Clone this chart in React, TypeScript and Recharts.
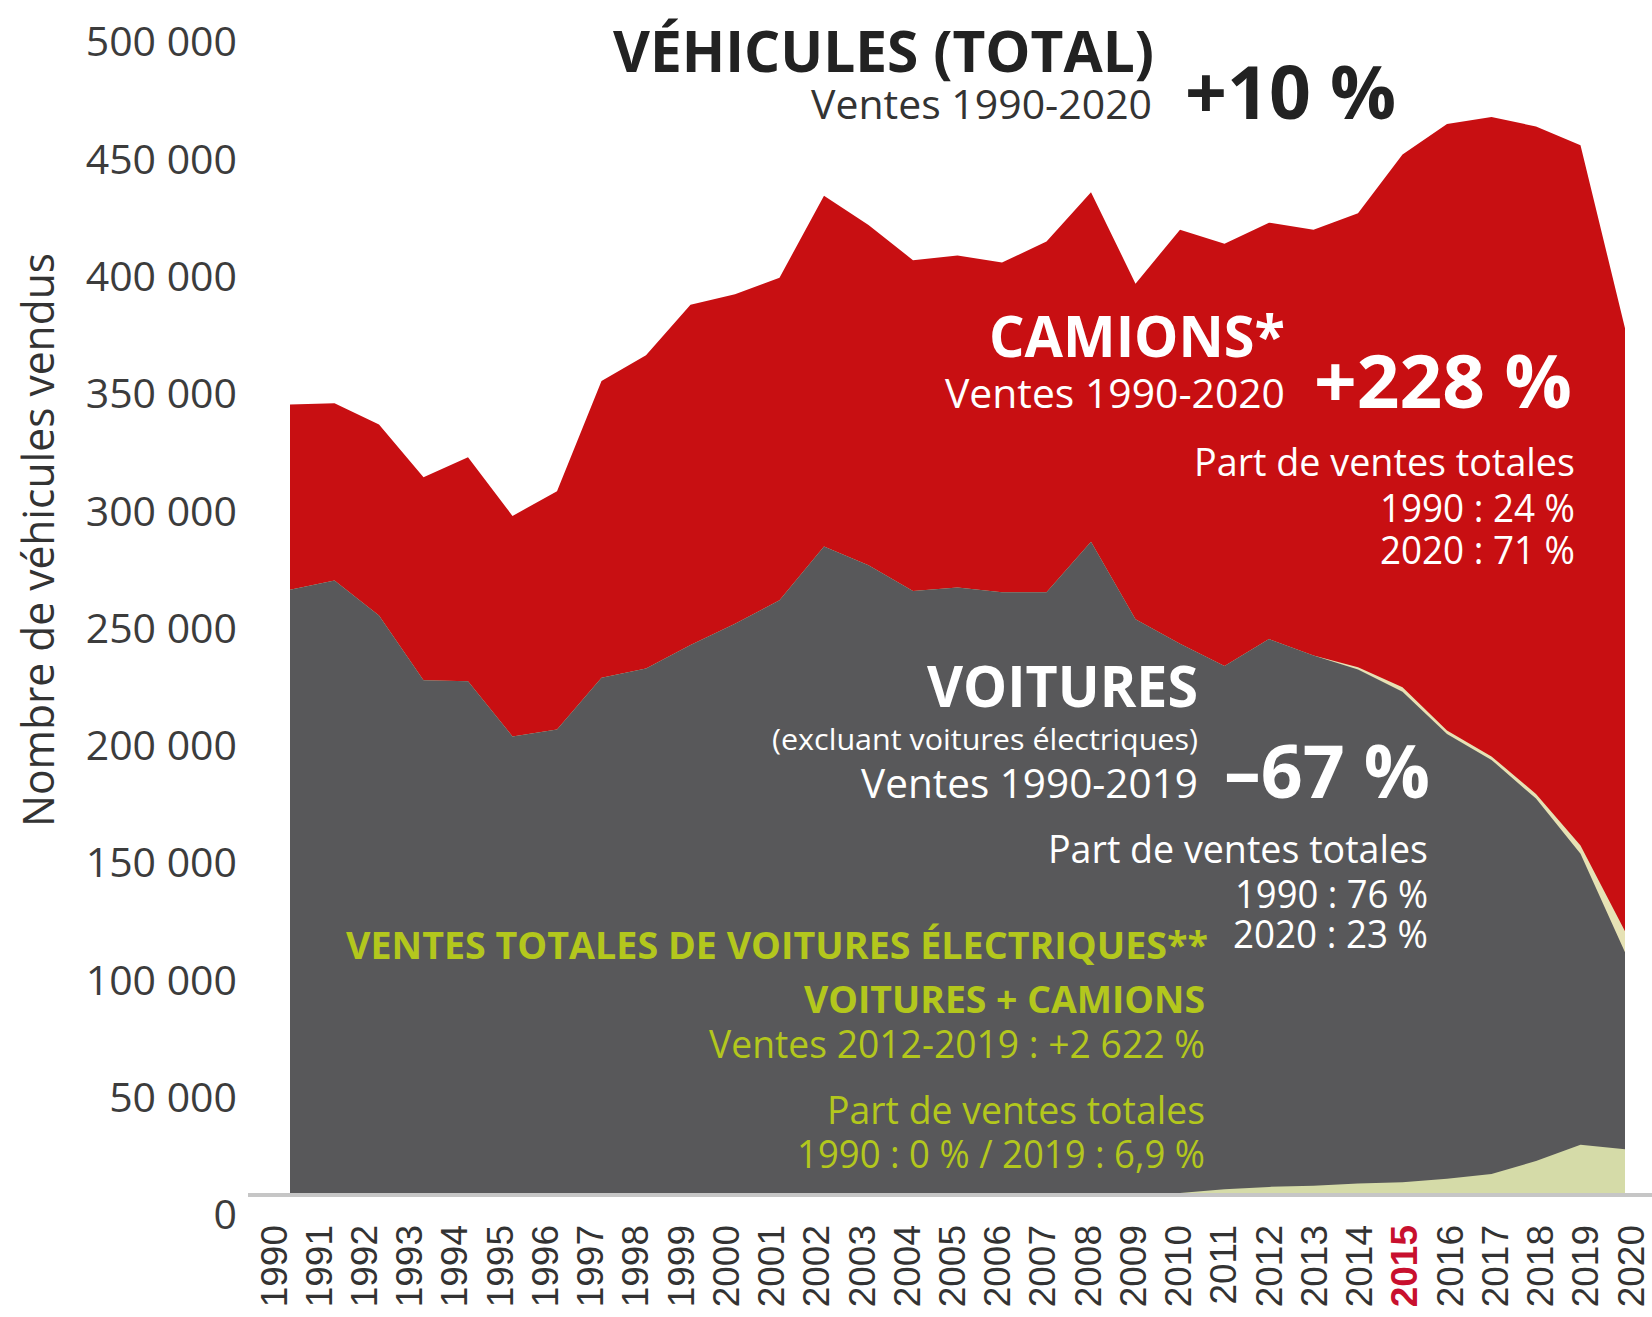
import React from 'react';
import { AreaChart, Area, XAxis, YAxis } from 'recharts';

// Années et ventes (nombre de véhicules)
const annees = [
  1990, 1991, 1992, 1993, 1994, 1995, 1996, 1997, 1998, 1999, 2000, 2001, 2002, 2003, 2004, 2005,
  2006, 2007, 2008, 2009, 2010, 2011, 2012, 2013, 2014, 2015, 2016, 2017, 2018, 2019, 2020,
];

const totalVehicules = [
  345500, 346000, 337000, 314500, 323000, 298000, 308500, 355500, 366500, 388000, 392500, 399500,
  434500, 422000, 407000, 409000, 406000, 415000, 436000, 397000, 420000, 414000, 423000, 420000,
  427000, 452000, 465000, 468000, 464000, 456000, 378000,
];

const voituresAvecElec = [
  266500, 270500, 255500, 228000, 227500, 204000, 207000, 229000, 233000, 243000, 252000, 262000,
  285000, 277000, 266000, 267500, 265500, 265500, 287000, 254000, 243500, 234000, 245500, 238500,
  233500, 225000, 206500, 195500, 179500, 157500, 121000,
];

const voitures = [
  266500, 270500, 255500, 228000, 227500, 204000, 207000, 229000, 233000, 243000, 252000, 262000,
  285000, 277000, 266000, 267500, 265500, 265500, 287000, 254000, 243500, 234000, 245500, 238500,
  232500, 223000, 205000, 194000, 177500, 154000, 112000,
];

const electriques = [
  0, 0, 0, 0, 0, 0, 0, 0, 0, 0, 0, 0, 0, 0, 0, 0, 0, 0, 0, 0,
  9400, 11000, 12000, 12500, 13500, 14000, 15500, 17500, 23000, 30000, 28000,
];

const yTicks = [0, 50000, 100000, 150000, 200000, 250000, 300000, 350000, 400000, 450000, 500000];
const anneeEnEvidence = 2015;

// le bas de la zone tracée ne tombe pas exactement sur le « 0 » de l'échelle
const Y_MIN = 9400;
const Y_MAX = 500000;

const data = annees.map((annee, i) => ({
  annee,
  total: totalVehicules[i],
  voituresAvecElec: voituresAvecElec[i],
  voitures: voitures[i],
  electriques: electriques[i],
}));

const ROUGE = '#c80f12';
const GRIS = '#58585a';
const VERT_PALE = '#d5dba8';
const CREME = '#e6e2b5';
const VERT_TEXTE = '#b3c71d';
const FONT = '"Open Sans", sans-serif';

const formatMilliers = (v: number) => String(v).replace(/\B(?=(\d{3})+(?!\d))/g, ' ');

function YTick({ x, y, payload }: any) {
  return (
    <text x={x} y={y} dy="0.35em" textAnchor="end" fontFamily={FONT} fontSize={41} fill="#3c3c3c">
      {formatMilliers(payload.value)}
    </text>
  );
}

function YearTick({ x, y, payload }: any) {
  const fort = Number(payload.value) === anneeEnEvidence;
  return (
    <text
      x={x}
      y={y}
      transform={`rotate(-90 ${x} ${y})`}
      textAnchor="end"
      dominantBaseline="central"
      fontFamily='"Liberation Sans", Arial, sans-serif'
      fontSize={37}
      fontWeight={fort ? 700 : 400}
      fill={fort ? '#c8102e' : '#333'}
    >
      {payload.value}
    </text>
  );
}

type NoteProps = {
  x: number;
  y: number;
  size: number;
  len: number;
  fill: string;
  bold?: boolean;
  anchor?: 'start' | 'end';
  children: React.ReactNode;
};

function Note({ x, y, size, len, fill, bold, anchor = 'end', children }: NoteProps) {
  return (
    <text
      x={x}
      y={y}
      textAnchor={anchor}
      fontFamily={FONT}
      fontSize={size}
      fontWeight={bold ? 700 : 400}
      fill={fill}
      textLength={len}
      lengthAdjust="spacingAndGlyphs"
    >
      {children}
    </text>
  );
}

export default function App() {
  return (
    <div style={{ position: 'absolute', left: 0, top: 0, width: 1652, height: 1317, background: '#fff' }}>
      <AreaChart width={1652} height={1317} data={data} margin={{ top: 42, right: 27, bottom: 0, left: 0 }}>
        <XAxis dataKey="annee" hide height={0} />
        <XAxis
          xAxisId="labels"
          dataKey="annee"
          height={124}
          padding={{ left: -16, right: -6 }}
          axisLine={false}
          tickLine={false}
          tickSize={0}
          tickMargin={32}
          interval={0}
          tick={<YearTick />}
        />
        <YAxis
          width={290}
          type="number"
          domain={[Y_MIN, Y_MAX]}
          allowDataOverflow
          ticks={yTicks}
          interval={0}
          axisLine={false}
          tickLine={false}
          tickSize={0}
          tickMargin={53}
          tick={<YTick />}
        />
        <Area dataKey="total" type="linear" fill={ROUGE} fillOpacity={1} stroke="none" isAnimationActive={false} />
        <Area dataKey="voituresAvecElec" type="linear" fill={CREME} fillOpacity={1} stroke="none" isAnimationActive={false} />
        <Area dataKey="voitures" type="linear" fill={GRIS} fillOpacity={1} stroke="none" isAnimationActive={false} />
        <Area dataKey="electriques" type="linear" fill={VERT_PALE} fillOpacity={1} stroke="none" isAnimationActive={false} />
      </AreaChart>

      <svg width={1652} height={1317} style={{ position: 'absolute', left: 0, top: 0, pointerEvents: 'none' }}>
        <line x1={248} x2={1652} y1={1195} y2={1195} stroke="#c6c6c6" strokeWidth={4} />

        <text
          x={37}
          y={540}
          transform="rotate(-90 37 540)"
          textAnchor="middle"
          dominantBaseline="central"
          fontFamily={FONT}
          fontSize={44}
          fill="#333"
          textLength={574}
          lengthAdjust="spacingAndGlyphs"
        >
          Nombre de véhicules vendus
        </text>

        <Note x={1154} y={72} size={57} len={541} fill="#222" bold>VÉHICULES (TOTAL)</Note>
        <Note x={1152} y={119} size={41} len={341} fill="#333">Ventes 1990-2020</Note>
        <Note x={1185} y={119} size={74} len={211} fill="#222" bold anchor="start">+10 %</Note>

        <Note x={1285} y={357} size={57} len={296} fill="#fff" bold>CAMIONS*</Note>
        <Note x={1285} y={408} size={41} len={340} fill="#fff">Ventes 1990-2020</Note>
        <Note x={1314} y={408} size={74} len={258} fill="#fff" bold anchor="start">+228 %</Note>
        <Note x={1575} y={476} size={38} len={381} fill="#fff">Part de ventes totales</Note>
        <Note x={1575} y={522} size={38} len={195} fill="#fff">1990 : 24 %</Note>
        <Note x={1575} y={564} size={38} len={195} fill="#fff">2020 : 71 %</Note>

        <Note x={1198} y={707} size={57} len={271} fill="#fff" bold>VOITURES</Note>
        <Note x={1198} y={750} size={30} len={426} fill="#fff">(excluant voitures électriques)</Note>
        <Note x={1198} y={798} size={41} len={337} fill="#fff">Ventes 1990-2019</Note>
        <Note x={1224} y={798} size={74} len={206} fill="#fff" bold anchor="start">–67 %</Note>
        <Note x={1428} y={863} size={38} len={380} fill="#fff">Part de ventes totales</Note>
        <Note x={1428} y={908} size={38} len={193} fill="#fff">1990 : 76 %</Note>
        <Note x={1428} y={948} size={38} len={195} fill="#fff">2020 : 23 %</Note>

        <Note x={1208} y={959} size={38} len={862} fill={VERT_TEXTE} bold>VENTES TOTALES DE VOITURES ÉLECTRIQUES**</Note>
        <Note x={1205} y={1013} size={38} len={401} fill={VERT_TEXTE} bold>VOITURES + CAMIONS</Note>
        <Note x={1205} y={1058} size={38} len={496} fill={VERT_TEXTE}>Ventes 2012-2019 : +2 622 %</Note>
        <Note x={1205} y={1124} size={38} len={378} fill={VERT_TEXTE}>Part de ventes totales</Note>
        <Note x={1205} y={1168} size={38} len={408} fill={VERT_TEXTE}>1990 : 0 % / 2019 : 6,9 %</Note>
      </svg>
    </div>
  );
}
